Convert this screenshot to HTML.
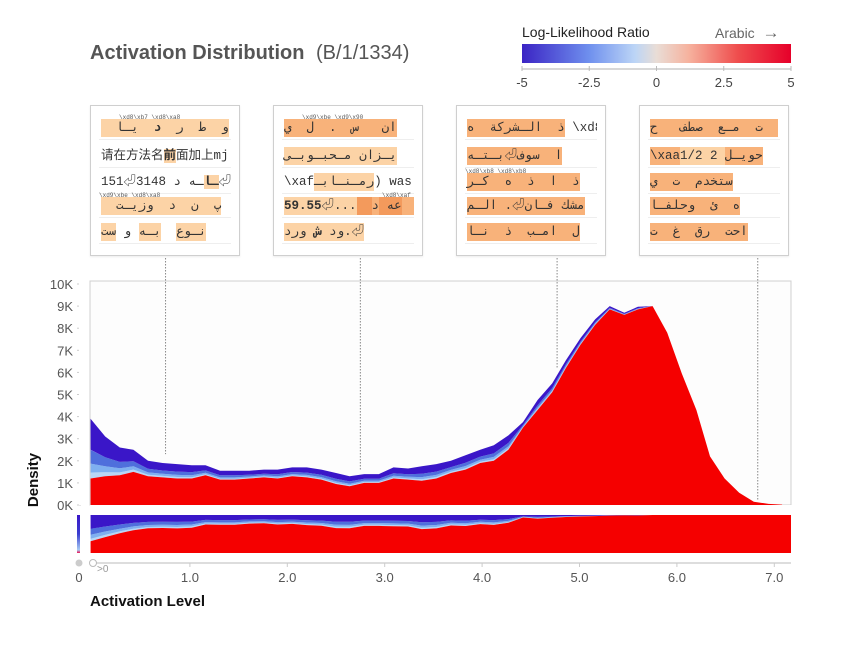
<!DOCTYPE html>
<html><head><meta charset="utf-8">
<style>
body{margin:0;width:860px;height:660px;background:#fff;position:relative;overflow:hidden;font-family:"Liberation Sans","Noto Sans CJK SC",sans-serif;}
.box{position:absolute;top:105px;width:150px;height:151px;border:1px solid #cfcfcf;background:#fff;box-shadow:0 1px 2px rgba(0,0,0,0.08);box-sizing:border-box;}
.row{position:absolute;left:8px;right:8px;height:25px;border-bottom:1px solid #eee;font-family:"Liberation Mono","Noto Sans CJK SC",monospace;font-size:12.5px;color:#333;white-space:nowrap;overflow:hidden;}
.row .t{position:absolute;top:5px;left:2px;line-height:18px;direction:ltr}
.row .t span{padding:2px 0}
.h{background:#fcd3a6}.m{background:#f8b27a}.d{background:#f39a5c}
.tiny{position:absolute;top:0;font-size:6px;color:#555;font-family:"Liberation Mono",monospace;z-index:2}
</style></head>
<body>
<div style="position:absolute;left:90px;top:42px;font-size:20px;color:#555;"><b>Activation Distribution</b> <span style="margin-left:6px">(B/1/1334)</span></div>
<div style="position:absolute;left:522px;top:24px;font-size:14px;color:#222;">Log-Likelihood Ratio</div>
<div style="position:absolute;left:715px;top:23px;font-size:14px;color:#666;">Arabic &nbsp;<span style="font-size:17px">→</span></div>

<div class="box" style="left:90px">
 <div class="row" style="top:8px"><span class="tiny" style="left:20px">\xd8\xb7 \xd8\xa8</span><span class="t"><span class="h">&nbsp; و &nbsp;ط &nbsp;ر &nbsp;<b>د</b> &nbsp;يـا </span></span></div>
 <div class="row" style="top:36px"><span class="t">请在方法名<b class="h">前</b>面加上mj</span></div>
 <div class="row" style="top:62px"><span class="t">151⏎3148 <b class="h">ـا</b>ـه د⏎_</span></div>
 <div class="row" style="top:86px"><span class="tiny" style="left:0">\xd9\xbe \xd8\xa8</span><span class="t"><span class="h">&nbsp; پ &nbsp;ن &nbsp;د &nbsp;وزيـت</span></span></div>
 <div class="row" style="top:112px"><span class="t"><span class="h">نـوع</span> &nbsp;<span class="h">بـه</span> و <span class="h">ست</span></span></div>
</div>
<div class="box" style="left:273px">
 <div class="row" style="top:8px"><span class="tiny" style="left:20px">\xd9\xbe \xd9\x90</span><span class="t"><span class="m">ان &nbsp;&nbsp;س &nbsp;. &nbsp;ل &nbsp;ي</span></span></div>
 <div class="row" style="top:36px"><span class="t"><span class="h">يـزان مـحبـوبـى</span></span></div>
 <div class="row" style="top:62px"><span class="t">\xaf<span class="h">رمـنـابـ</span>) was a</span></div>
 <div class="row" style="top:86px"><span class="tiny" style="left:100px">\xd8\xaf</span><span class="t"><span class="h"><b>59.55</b>⏎...</span><span class="d"> &nbsp;عه </span><span class="m">د &nbsp;</span></span></div>
 <div class="row" style="top:112px"><span class="t"><span class="h">ود <b>ش</b> ورد.⏎</span></span></div>
</div>
<div class="box" style="left:456px">
 <div class="row" style="top:8px"><span class="t"><span class="m">ذ &nbsp;الـشركة &nbsp;ه</span> \xd8</span></div>
 <div class="row" style="top:36px"><span class="t"><span class="m">ا &nbsp;سوف⏎بـتـه</span></span></div>
 <div class="row" style="top:62px"><span class="tiny" style="left:0">\xd8\xb8 \xd8\xb8</span><span class="t"><span class="m">ذ &nbsp;ا &nbsp;ذ &nbsp;ه &nbsp;كـر</span></span></div>
 <div class="row" style="top:86px"><span class="t"><span class="m">مشك فـان⏎. الـم</span></span></div>
 <div class="row" style="top:112px"><span class="t"><span class="m">ل &nbsp;امـب &nbsp;ذ &nbsp;نـا</span></span></div>
</div>
<div class="box" style="left:639px">
 <div class="row" style="top:8px"><span class="t"><span class="m">ت &nbsp;مـع &nbsp;صطف &nbsp;&nbsp;ح &nbsp;</span></span></div>
 <div class="row" style="top:36px"><span class="t"><span class="m">\xaa</span><span class="h">1/2 2 </span><span class="m">حويـل</span></span></div>
 <div class="row" style="top:62px"><span class="t"><span class="m">ستخدم &nbsp;ت &nbsp;ي </span></span></div>
 <div class="row" style="top:86px"><span class="t"><span class="m">ه &nbsp;ئ &nbsp;وحلفـا </span></span></div>
 <div class="row" style="top:112px"><span class="t"><span class="m">احت &nbsp;رق &nbsp;غ &nbsp;ت</span></span></div>
</div>

<svg id="chart" width="860" height="660" style="position:absolute;left:0;top:0;pointer-events:none" xmlns="http://www.w3.org/2000/svg">
<defs>
<linearGradient id="cb" x1="0" x2="1" y1="0" y2="0">
<stop offset="0" stop-color="#3b24c4"/><stop offset="0.25" stop-color="#6f90ee"/><stop offset="0.42" stop-color="#bcd5f6"/><stop offset="0.5" stop-color="#e9ddd6"/><stop offset="0.62" stop-color="#f6b29e"/><stop offset="0.8" stop-color="#ef4e4e"/><stop offset="1" stop-color="#e6002a"/>
</linearGradient>
<linearGradient id="lb" x1="0" x2="0" y1="0" y2="1">
<stop offset="0" stop-color="#3a16c8"/><stop offset="0.5" stop-color="#3a3ed0"/><stop offset="0.92" stop-color="#a8ccf4"/><stop offset="1" stop-color="#f01050"/>
</linearGradient>
</defs>
<g id="g"></g>
</svg>
<script>
const xs=[-0.02,0.13,0.28,0.42,0.57,0.72,0.87,1.02,1.16,1.31,1.46,1.61,1.76,1.90,2.05,2.20,2.35,2.50,2.64,2.79,2.94,3.09,3.24,3.38,3.53,3.68,3.83,3.98,4.12,4.27,4.42,4.57,4.72,4.86,5.01,5.16,5.31,5.46,5.60,5.75,5.90,6.05,6.20,6.34,6.49,6.64,6.79,6.94,7.08];
const totalK=[3.9,3.1,2.6,2.5,2.0,1.9,1.85,1.8,1.8,1.55,1.55,1.55,1.6,1.6,1.7,1.7,1.6,1.45,1.3,1.4,1.4,1.7,1.65,1.75,1.85,2.0,2.25,2.5,2.7,3.15,3.75,4.75,5.5,6.55,7.55,8.4,9.0,8.7,8.97,9.0,7.8,5.95,4.3,2.2,1.2,0.55,0.15,0.05,0.02];
const redK=[1.2,1.3,1.35,1.5,1.3,1.25,1.2,1.2,1.35,1.15,1.15,1.2,1.25,1.2,1.3,1.25,1.15,0.95,0.85,1.0,1.0,1.2,1.15,1.1,1.2,1.45,1.6,1.9,2.0,2.5,3.5,4.3,5.1,6.2,7.25,8.15,8.85,8.6,8.85,9.0,7.8,5.95,4.3,2.2,1.2,0.55,0.15,0.05,0.02];
const yTicks=[0,1,2,3,4,5,6,7,8,9,10];
const xTicks=[1,2,3,4,5,6,7];
const xTickLabels=["1.0","2.0","3.0","4.0","5.0","6.0","7.0"];
const cbTicks=[-5,-2.5,0,2.5,5];
const cbTickLabels=["-5","-2.5","0","2.5","5"];
const exampleX=[0.75,2.75,4.77,6.83];
const exampleTop=[2.3,1.6,6.2,0.2];

const NS="http://www.w3.org/2000/svg";
const g=document.getElementById('g');
const X=v=>92.5+97.4*v;
const Y=k=>505-22.1*k;
const CB=v=>656.5+26.9*v;
const SY=f=>553-38*f;
function el(t,a,txt){const e=document.createElementNS(NS,t);for(const k in a)e.setAttribute(k,a[k]);if(txt!==undefined)e.textContent=txt;g.appendChild(e);return e;}
function area(lo,hi,yf,ext){const n=xs.length;let d='M'+X(xs[0])+','+yf(hi[0],0);for(let i=1;i<n;i++)d+='L'+X(xs[i]).toFixed(1)+','+yf(hi[i],i).toFixed(1);
 if(ext){d+='L'+ext+','+yf(hi[n-1]).toFixed(1)+'L'+ext+','+yf(lo[n-1]).toFixed(1);}
 for(let i=n-1;i>=0;i--)d+='L'+X(xs[i]).toFixed(1)+','+yf(lo[i],i).toFixed(1);return d+'Z';}

// colorbar
let e=el('rect',{x:522,y:44,width:269,height:19,fill:'url(#cb)'});

el('line',{x1:522,x2:791,y1:69,y2:69,stroke:'#ccc','stroke-width':1.5});
cbTicks.forEach((t,i)=>{el('line',{x1:CB(t),x2:CB(t),y1:66,y2:71,stroke:'#bbb'});
 const tx=el('text',{x:CB(t),y:87,'text-anchor':'middle','font-size':13,fill:'#444','font-family':'Liberation Sans'},cbTickLabels[i]);
 });

// frame
e=el('rect',{x:90,y:281,width:701,height:224,fill:'#fdfdfd',stroke:'#d0d0d0'});

// y axis
el('line',{x1:81,x2:81,y1:282,y2:505,stroke:'#ccc'});
for(let k=0;k<=10;k+=0.5){el('line',{x1:k%1?79:77,x2:81,y1:Y(k),y2:Y(k),stroke:'#ccc'});}
yTicks.forEach(t=>{const tx=el('text',{x:73,y:Y(t)+5,'text-anchor':'end','font-size':13,fill:'#555','font-family':'Liberation Sans'},t+'K');
 });

// layers
const fr=[0,0.1,0.25,0.48,1];
const cols=['#b8d6f6','#7fb0f0','#4f6fdc','#3a16c8'];
for(let j=0;j<4;j++){
 const lo=redK.map((r,i)=>r+(totalK[i]-r)*fr[j]);
 const hi=redK.map((r,i)=>r+(totalK[i]-r)*fr[j+1]);
 e=el('path',{d:area(lo,hi,Y),fill:cols[j]});
 
 const slo=lo.map((v,i)=>v/totalK[i]),shi=hi.map((v,i)=>v/totalK[i]);
 e=el('path',{d:area(slo,shi,SY,791),fill:cols[j]});
 
}
e=el('path',{d:area(redK.map(()=>0),redK,Y),fill:'#f50000'});

e=el('path',{d:area(redK.map(()=>0),redK.map((r,i)=>r/totalK[i]),SY,791),fill:'#f50000'});

el('rect',{x:90,y:505,width:702,height:10,fill:'#fff'});
el('rect',{x:90,y:553,width:702,height:8,fill:'#fff'});
el('rect',{x:79,y:281,width:11,height:224,fill:'#fff'});
el('line',{x1:791,x2:791,y1:281,y2:505,stroke:'#d0d0d0'});
el('line',{x1:90,x2:90,y1:281,y2:505,stroke:'#d0d0d0'});
el('line',{x1:90,x2:791,y1:281,y2:281,stroke:'#d0d0d0'});
e=el('rect',{x:77,y:515,width:3,height:38,fill:'url(#lb)'});


// dotted lines
exampleX.forEach((v,i)=>{e=el('line',{x1:X(v),x2:X(v),y1:258,y2:Y(exampleTop[i]),stroke:'#888','stroke-dasharray':'1.5,1.5'});
 });

// x axis
el('line',{x1:90,x2:791,y1:563,y2:563,stroke:'#ddd','stroke-width':2});
e=el('circle',{cx:79,cy:563,r:3.5,fill:'#ccc'});
e=el('circle',{cx:93,cy:563,r:3.5,fill:'#fff',stroke:'#bbb'});
el('text',{x:97,y:572,'font-size':10,fill:'#999','font-family':'Liberation Sans'},'>0');
el('text',{x:79,y:582,'text-anchor':'middle','font-size':13,fill:'#555','font-family':'Liberation Sans'},'0');
xTicks.forEach((t,i)=>{el('line',{x1:X(t),x2:X(t),y1:563,y2:567,stroke:'#ccc'});
 const tx=el('text',{x:X(t),y:582,'text-anchor':'middle','font-size':13,fill:'#555','font-family':'Liberation Sans'},xTickLabels[i]);
 });
e=el('text',{x:90,y:606,'font-size':15,'font-weight':'bold',fill:'#111','font-family':'Liberation Sans'},'Activation Level');

e=el('text',{x:38,y:480,'font-size':15,'font-weight':'bold',fill:'#111','font-family':'Liberation Sans',transform:'rotate(-90 38 480)','text-anchor':'middle'},'Density');

</script>
</body></html>
